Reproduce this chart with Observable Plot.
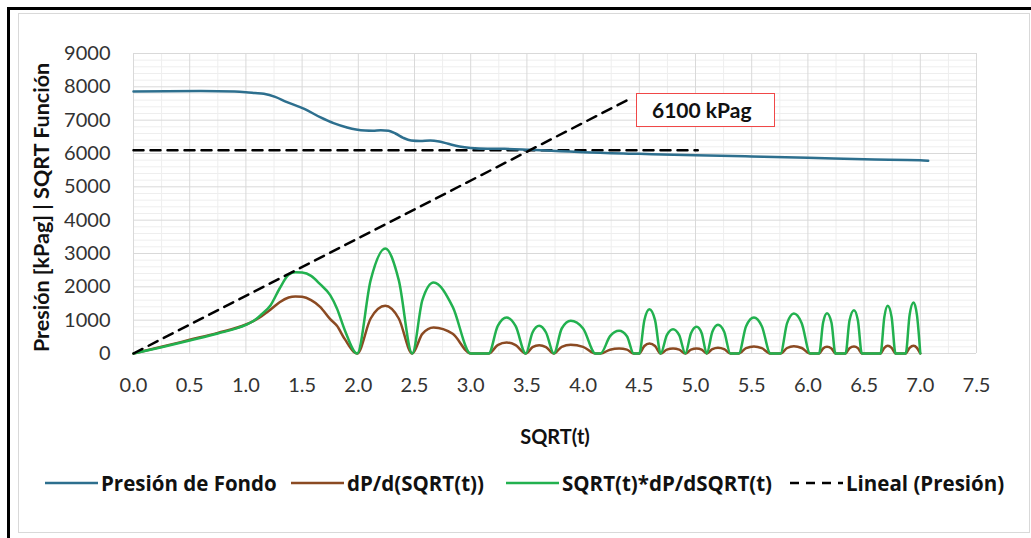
<!DOCTYPE html>
<html>
<head>
<meta charset="utf-8">
<script src="https://cdn.jsdelivr.net/npm/d3@7"></script>
<script src="https://cdn.jsdelivr.net/npm/@observablehq/plot@0.6"></script>
<style>
  body { margin: 0; background: #fff; font-family: Lato, "Open Sans", sans-serif; }
  #wrap { position: relative; width: 1031px; height: 538px; overflow: hidden; background: #fff; }
  #outer { position: absolute; left: 7px; top: 7px; width: 1100px; height: 600px; border-left: 3px solid #000; border-top: 3px solid #000; }
  #inner { position: absolute; left: 18px; top: 13px; width: 1010px; height: 518px; border: 1px solid #d9d9d9; }
  #chart { position: absolute; left: 0; top: 0; }
  #note { position: absolute; left: 636px; top: 93px; width: 139px; height: 34px; box-sizing: border-box; border: 1.5px solid #f04848; background: #fff; }
  #note span { position: absolute; left: 15px; top: 3px; font-weight: bold; font-size: 21px; color: #111; white-space: nowrap; }
  .leg { position: absolute; top: 471px; height: 24px; display: flex; align-items: center; font-family: "Open Sans", Lato, sans-serif; font-weight: bold; font-size: 20.5px; color: #111; white-space: nowrap; }
  .leg svg { margin-right: 3px; }
</style>
</head>
<body>
<div id="wrap">
  <div id="outer"></div>
  <div id="inner"></div>
  <div id="chart"></div>
  <div id="note"><span>6100 kPag</span></div>
  <div id="legend"></div>
</div>
<script>
// ---- Data ----
const xTicks = [0, 0.5, 1, 1.5, 2, 2.5, 3, 3.5, 4, 4.5, 5, 5.5, 6, 6.5, 7, 7.5];
const xMinor = [0.25, 0.75, 1.25, 1.75, 2.25, 2.75, 3.25, 3.75, 4.25, 4.75, 5.25, 5.75, 6.25, 6.75, 7.25];
const yTicks = [0, 1000, 2000, 3000, 4000, 5000, 6000, 7000, 8000, 9000];
const yMinor = [200, 400, 600, 800, 1200, 1400, 1600, 1800, 2200, 2400, 2600, 2800, 3200, 3400, 3600, 3800,
  4200, 4400, 4600, 4800, 5200, 5400, 5600, 5800, 6200, 6400, 6600, 6800, 7200, 7400, 7600, 7800,
  8200, 8400, 8600, 8800];

// Presión de Fondo
const presX = [0, 0.3, 0.6, 0.9, 1.0, 1.08, 1.16, 1.26, 1.36, 1.52, 1.66, 1.78, 1.9, 1.98, 2.06, 2.13, 2.2,
  2.27, 2.33, 2.4, 2.47, 2.55, 2.64, 2.72, 2.8, 2.9, 3.0, 3.15, 3.3, 3.53, 3.8, 4.0, 4.5, 5.0, 5.5, 6.0, 6.5, 7.0, 7.07];
const presY = [7860, 7870, 7875, 7860, 7840, 7815, 7790, 7700, 7550, 7340, 7090, 6910, 6780, 6720, 6690, 6685, 6700,
  6680, 6600, 6470, 6390, 6375, 6393, 6360, 6290, 6210, 6165, 6140, 6140, 6110, 6070, 6040, 5990, 5945, 5910, 5875, 5825, 5800, 5780];

// Derivative series (shared SQRT(t) abscissa)
const derX = [0, 0.25, 0.5, 0.75, 1.0, 1.07, 1.14, 1.22, 1.3, 1.38, 1.44, 1.5, 1.58, 1.66, 1.75, 1.81, 1.88, 1.99,
  2.11, 2.24, 2.36, 2.48,
  2.57, 2.67, 2.84, 3.0,
  3.16, 3.24, 3.32, 3.40, 3.49,
  3.55, 3.61, 3.67, 3.74,
  3.81, 3.89, 4.0, 4.11,
  4.155, 4.24, 4.32, 4.39, 4.45,
  4.50, 4.545, 4.59, 4.64, 4.69,
  4.745, 4.80, 4.855, 4.91,
  4.96, 5.01, 5.055, 5.10,
  5.15, 5.20, 5.255, 5.31,
  5.385, 5.45, 5.52, 5.59, 5.667,
  5.756, 5.815, 5.875, 5.945, 6.02,
  6.10, 6.135, 6.17, 6.21, 6.245,
  6.335, 6.37, 6.41, 6.445, 6.48,
  6.646, 6.68, 6.71, 6.745, 6.78,
  6.87, 6.905, 6.94, 6.97, 7.00];
// dP/d(SQRT(t))
const dP = [0, 200, 410, 620, 870, 980, 1120, 1320, 1540, 1680, 1710, 1700, 1600, 1400, 1030, 830, 430, 0,
  1050, 1430, 1050, 0,
  590, 780, 590, 0,
  0, 250, 330, 250, 0,
  190, 250, 190, 0,
  200, 260, 200, 0,
  0, 115, 150, 115, 0,
  0, 225, 300, 225, 0,
  115, 150, 115, 0,
  115, 150, 115, 0,
  130, 175, 130, 0,
  0, 160, 210, 160, 0,
  0, 165, 220, 165, 0,
  0, 150, 200, 150, 0,
  0, 160, 210, 160, 0,
  0, 170, 230, 170, 0,
  0, 170, 230, 170, 0];
// SQRT(t)*dP/dSQRT(t)
const sdP = [0, 190, 390, 600, 860, 980, 1180, 1450, 1950, 2360, 2440, 2430, 2330, 2080, 1750, 1350, 700, 0,
  2200, 3150, 2200, 0,
  1600, 2130, 1400, 0,
  0, 820, 1080, 820, 0,
  630, 830, 630, 0,
  750, 980, 750, 0,
  0, 520, 680, 520, 0,
  0, 1000, 1330, 1000, 0,
  550, 730, 550, 0,
  610, 800, 610, 0,
  650, 860, 650, 0,
  0, 820, 1080, 820, 0,
  0, 910, 1200, 910, 0,
  0, 920, 1210, 920, 0,
  0, 990, 1300, 990, 0,
  0, 1090, 1430, 1090, 0,
  0, 1160, 1530, 1160, 0];

// Lineal (Presión) dashed guides
const linealX = [0, 4.4];
const linealY = [0, 7610];
const refX = [0, 5.02];
const refY = [6100, 6100];

const seriesNames = ["Presión de Fondo", "dP/d(SQRT(t))", "SQRT(t)*dP/dSQRT(t)", "Lineal (Presión)"];
const seriesColors = ["#2d6f8e", "#8b4a22", "#22b14f", "#000000"];

// ---- Tables ----
const pres = presX.map((x, i) => ({x, y: presY[i]}));
const der = derX.map((x, i) => ({x, a: dP[i], b: sdP[i]}));
const lin = linealX.map((x, i) => ({x, y: linealY[i]}));
const ref = refX.map((x, i) => ({x, y: refY[i]}));

const plot = Plot.plot({
  width: 1031,
  height: 460,
  marginLeft: 133,
  marginRight: 55,
  marginTop: 53,
  marginBottom: 107,
  style: {fontFamily: "Lato, 'Open Sans', sans-serif", fontSize: "20px", color: "#333", background: "transparent", overflow: "visible"},
  x: {domain: [0, 7.5], ticks: xTicks, tickFormat: d3.format(".1f"), tickSize: 0, tickPadding: 24, label: null},
  y: {domain: [0, 9000], ticks: yTicks, tickFormat: d3.format("d"), tickSize: 0, tickPadding: 23, label: null},
  marks: [
    Plot.gridX(xMinor, {stroke: "#eeeeee", strokeOpacity: 1}),
    Plot.gridY(yMinor, {stroke: "#eeeeee", strokeOpacity: 1}),
    Plot.gridX(xTicks, {stroke: "#d9d9d9", strokeOpacity: 1}),
    Plot.gridY(yTicks, {stroke: "#d9d9d9", strokeOpacity: 1}),
    Plot.line(ref, {x: "x", y: "y", stroke: seriesColors[3], strokeWidth: 2.5, strokeDasharray: "10,7"}),
    Plot.line(pres, {x: "x", y: "y", stroke: seriesColors[0], strokeWidth: 2.5, curve: "monotone-x"}),
    Plot.line(der, {x: "x", y: "a", stroke: seriesColors[1], strokeWidth: 2.5, curve: "monotone-x"}),
    Plot.line(der, {x: "x", y: "b", stroke: seriesColors[2], strokeWidth: 2.5, curve: "monotone-x"}),
    Plot.line(lin, {x: "x", y: "y", stroke: seriesColors[3], strokeWidth: 2.5, strokeDasharray: "10,7"}),
    Plot.text(["Presión [kPag] | SQRT Función"], {frameAnchor: "left", textAnchor: "middle", lineAnchor: "middle", rotate: -90, dx: -91, dy: 4, fontWeight: "bold", fontSize: 21.5, fill: "#111"}),
    Plot.text(["SQRT(t)"], {frameAnchor: "bottom", textAnchor: "middle", lineAnchor: "middle", dy: 84, fontWeight: "bold", fontSize: 20, fill: "#111"})
  ]
});
document.getElementById("chart").appendChild(plot);

// ---- Legend ----
const legLefts = [45, 291, 506, 790];
const legend = document.getElementById("legend");
seriesNames.forEach((name, i) => {
  const item = document.createElement("div");
  item.className = "leg";
  item.style.left = legLefts[i] + "px";
  const dash = i === 3 ? ' stroke-dasharray="9,7"' : '';
  item.innerHTML = `<svg width="53" height="6"><line x1="0" y1="3" x2="53" y2="3" stroke="${seriesColors[i]}" stroke-width="2.5"${dash}/></svg><span>${name}</span>`;
  legend.appendChild(item);
});
</script>
</body>
</html>
